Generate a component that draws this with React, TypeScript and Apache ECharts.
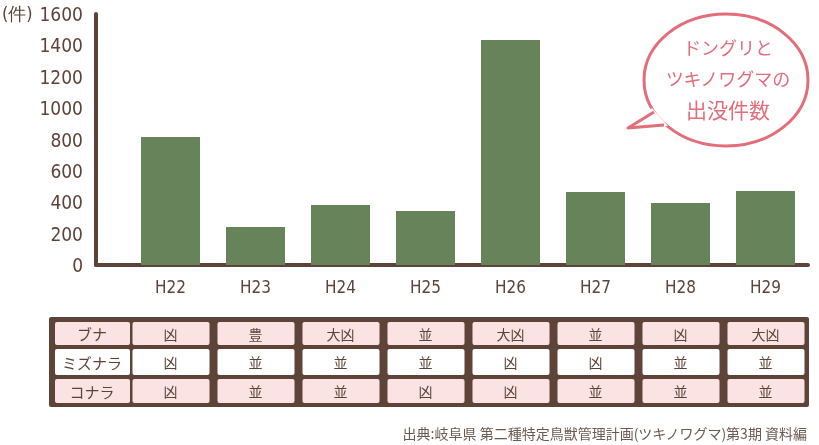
import React, { useEffect, useRef } from "react";
import * as echarts from "echarts";

const categories = ["H22", "H23", "H24", "H25", "H26", "H27", "H28", "H29"];
const sightings = [816, 242, 382, 344, 1434, 465, 395, 472];
const yTicks = { min: 0, max: 1600, interval: 200 };
const unitLabel = "(件)";
const bubbleLines = ["ドングリと", "ツキノワグマの", "出没件数"];
const treeNames = ["ブナ", "ミズナラ", "コナラ"];
const harvest = [
  ["凶", "豊", "大凶", "並", "大凶", "並", "凶", "大凶"],
  ["凶", "並", "並", "並", "凶", "凶", "並", "並"],
  ["凶", "並", "並", "凶", "凶", "並", "並", "並"],
];
const sourceText = "出典:岐阜県 第二種特定鳥獣管理計画(ツキノワグマ)第3期 資料編";

const BROWN = "#5e4438";
const GREEN = "#67835a";
const PINK = "#e36d79";
const CELL_PINK = "#fbe3e3";
const NUM_FONT = "'DejaVu Sans Condensed', 'Liberation Sans Narrow', 'Roboto', sans-serif";
const JP_FONT = "'Noto Sans CJK JP', sans-serif";

export default function App() {
  const ref = useRef<HTMLDivElement>(null);
  useEffect(() => {
    if (!ref.current) return;
    const chart = echarts.init(ref.current, undefined, { renderer: "svg" });
    const W = 819;
    const gridLeft = 128;
    const gridRight = 11;
    const catW = (W - gridLeft - gridRight) / categories.length;

    const graphics: any[] = [];
    graphics.push({
      type: "text",
      left: 2,
      top: 4,
      style: { text: unitLabel, fill: BROWN, font: `18px ${NUM_FONT}` },
    });

    // speech bubble
    graphics.push({
      type: "ellipse",
      shape: { cx: 726, cy: 80, rx: 82, ry: 66 },
      style: { fill: "#fff", stroke: PINK, lineWidth: 3 },
      z: 10,
    });
    graphics.push({
      type: "polygon",
      shape: { points: [[652, 108], [628, 128], [668, 126]] },
      style: { fill: "#fff", stroke: "none" },
      z: 11,
    });
    graphics.push({
      type: "polyline",
      shape: { points: [[654, 112], [628, 128], [664, 125]] },
      style: { stroke: PINK, lineWidth: 3, fill: "none", lineJoin: "round" },
      z: 12,
    });
    const lineY = [47, 78, 109];
    bubbleLines.forEach((t, i) => {
      graphics.push({
        type: "text",
        x: 728,
        y: lineY[i],
        style: {
          text: t,
          fill: PINK,
          font: `${i === 2 ? 21 : 18}px ${JP_FONT}`,
          align: "center",
          verticalAlign: "middle",
        },
        z: 13,
      });
    });

    // table
    const tTop = 317;
    const tBottom = 407;
    graphics.push({
      type: "rect",
      shape: { x: 49, y: tTop, width: 760, height: tBottom - tTop, r: 2 },
      style: { fill: BROWN },
    });
    const rowTops = [322, 349, 379];
    const rowH = [23, 26, 24];
    treeNames.forEach((name, r) => {
      const fill = r === 1 ? "#ffffff" : CELL_PINK;
      graphics.push({
        type: "rect",
        shape: { x: 55, y: rowTops[r], width: 75, height: rowH[r], r: 2 },
        style: { fill },
      });
      graphics.push({
        type: "text",
        x: 92,
        y: rowTops[r] + rowH[r] / 2,
        style: { text: name, fill: BROWN, font: `15px ${JP_FONT}`, align: "center", verticalAlign: "middle" },
      });
      harvest[r].forEach((v, c) => {
        const cx = gridLeft + catW * (c + 0.5);
        graphics.push({
          type: "rect",
          shape: { x: cx - 38, y: rowTops[r], width: 77, height: rowH[r], r: 2 },
          style: { fill },
        });
        graphics.push({
          type: "text",
          x: cx,
          y: rowTops[r] + rowH[r] / 2,
          style: { text: v, fill: BROWN, font: `14px ${JP_FONT}`, align: "center", verticalAlign: "middle" },
        });
      });
    });

    graphics.push({
      type: "text",
      right: 11,
      top: 426,
      style: { text: sourceText, fill: "#6b5a50", font: `14px ${JP_FONT}` },
    });

    chart.setOption({
      animation: false,
      grid: [
        { left: gridLeft, right: gridRight, top: 14, bottom: 180 },
        { left: 96, right: gridRight, top: 14, bottom: 180 },
      ],
      xAxis: [
        {
          type: "category",
          gridIndex: 0,
          data: categories,
          axisLine: { show: false },
          axisTick: { show: false },
          axisLabel: { color: BROWN, fontSize: 17, fontFamily: NUM_FONT, margin: 13 },
        },
        {
          type: "value",
          gridIndex: 1,
          min: 0,
          max: 1,
          axisLine: { show: true, lineStyle: { color: BROWN, width: 4, cap: "round" } },
          axisTick: { show: false },
          axisLabel: { show: false },
          splitLine: { show: false },
        },
      ],
      yAxis: [
        {
          type: "value",
          gridIndex: 0,
          min: yTicks.min,
          max: yTicks.max,
          interval: yTicks.interval,
          show: false,
          splitLine: { show: false },
        },
        {
          type: "value",
          gridIndex: 1,
          min: yTicks.min,
          max: yTicks.max,
          interval: yTicks.interval,
          axisLine: { show: true, lineStyle: { color: BROWN, width: 4, cap: "round" } },
          axisTick: { show: false },
          splitLine: { show: false },
          axisLabel: {
            color: BROWN,
            fontSize: 19,
            fontFamily: NUM_FONT,
            margin: 13,
            formatter: (v: number) => String(v),
          },
        },
      ],
      series: [
        {
          type: "bar",
          xAxisIndex: 0,
          yAxisIndex: 0,
          data: sightings,
          barWidth: 59,
          itemStyle: { color: GREEN },
          z: 1,
        },
      ],
      graphic: graphics,
    });
    return () => chart.dispose();
  }, []);
  return <div ref={ref} style={{ position: "fixed", left: 0, top: 0, width: 819, height: 445 }} />;
}
